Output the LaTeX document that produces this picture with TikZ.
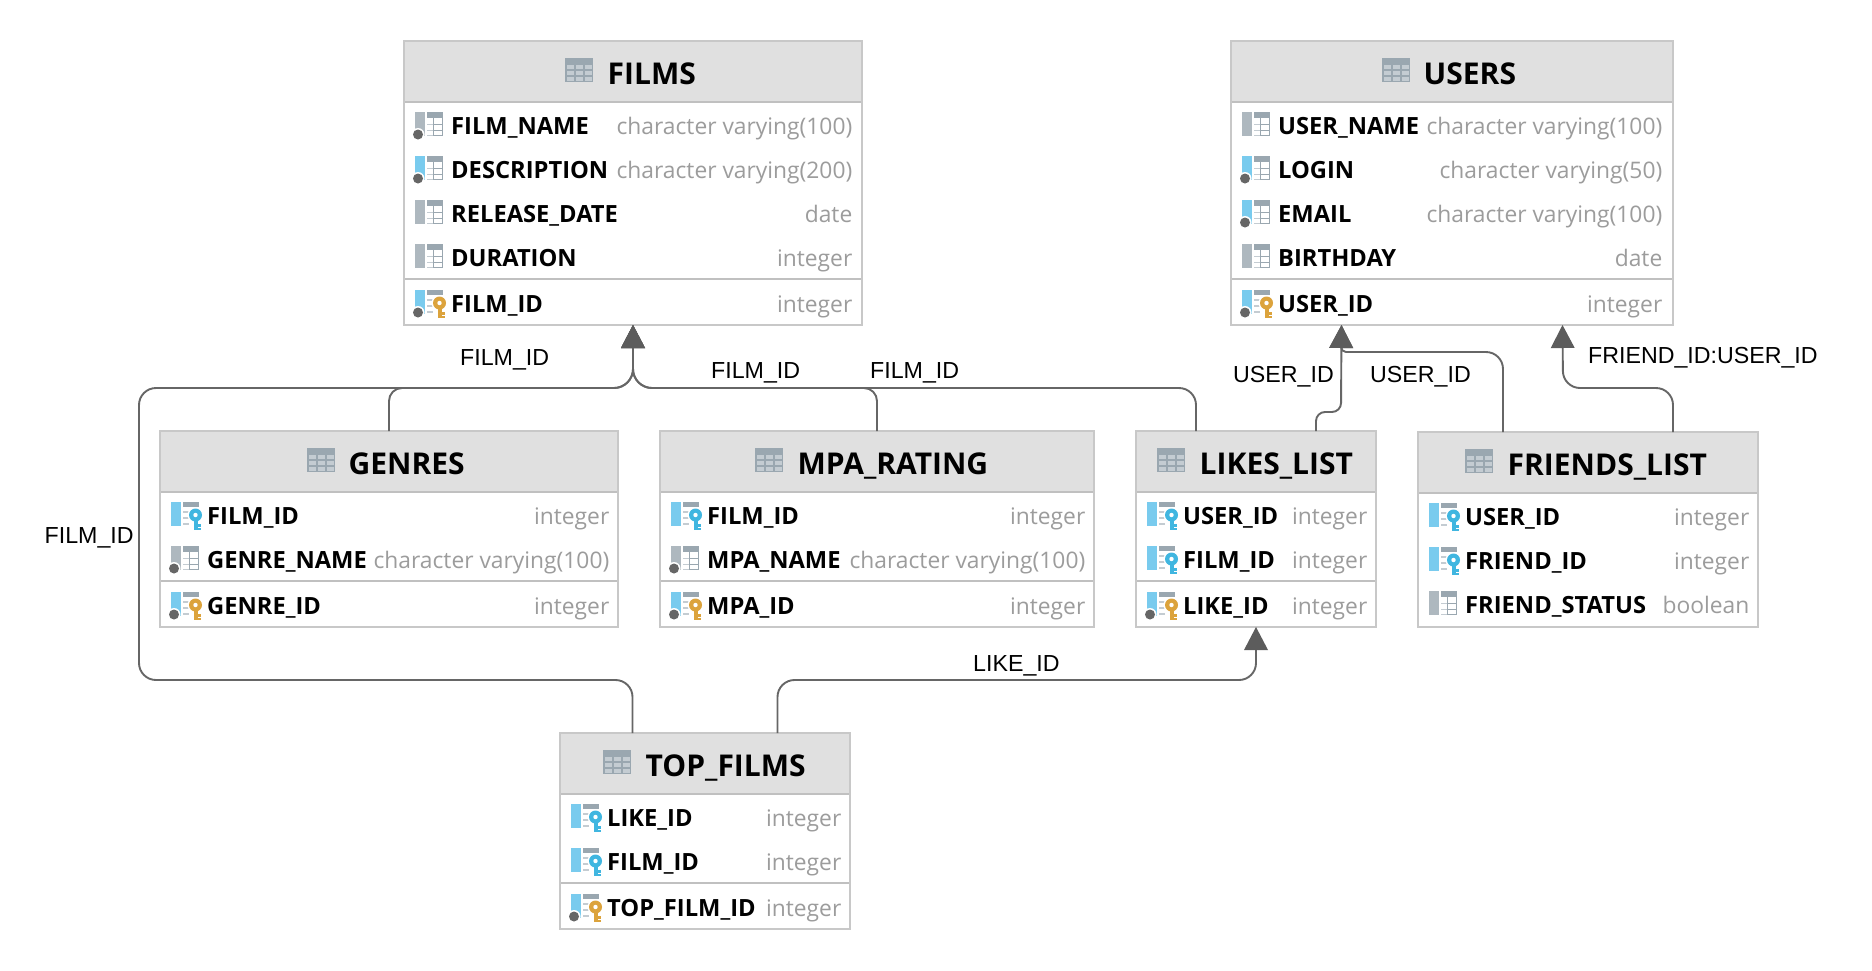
\documentclass[tikz,border=0pt]{standalone}
\usepackage{fontspec}
\setmainfont{Open Sans}
\newfontfamily\labelfont{Liberation Sans}
\usepackage{tikz}
\usetikzlibrary{calc}
\usetikzlibrary{arrows.meta}

\definecolor{tableline}{HTML}{C8C8C8}
\definecolor{headfill}{HTML}{E0E0E0}
\definecolor{headline}{HTML}{C0C0C0}
\definecolor{icongray}{HTML}{9AA7B0}
\definecolor{iconcell}{HTML}{C4CCD2}
\definecolor{bargray}{HTML}{AEB8BF}
\definecolor{barblue}{HTML}{79CBEE}
\definecolor{keyblue}{HTML}{40B6E0}
\definecolor{keygold}{HTML}{DCA33C}
\definecolor{dotgray}{HTML}{666666}
\definecolor{typegray}{HTML}{9C9C9C}
\definecolor{linkgray}{HTML}{666666}
\definecolor{tipgray}{HTML}{5C5C5C}

\newcommand{\colbar}[1]{\fill[#1] (0,-23) rectangle (10,1);}
\newcommand{\colgrid}{
    \fill[icongray] (12,-23) rectangle (28,-17);
    \fill[icongray] (26.7,-17) rectangle (28,1);
    \fill[icongray] (17.7,-17) rectangle (19,1);
    \foreach \yy in {-11.3,-5.3,-0.3} {
        \fill[icongray] (18,\yy) rectangle (28,\yy+1.3);
        \fill[iconcell] (12,\yy) rectangle (18,\yy+1.3);
    }
}
\newcommand{\colkeygrid}{
    \fill[icongray] (12,-23) rectangle (28,-18);
    \foreach \yy in {-14,-8,-2} {
        \fill[iconcell] (12,\yy) rectangle (18,\yy+1.5);
    }
}
\newcommand{\coldot}{
    \fill[white] (3,-0.5) circle (6.5);
    \fill[dotgray] (3,-0.5) circle (5);
}
\newcommand{\colkey}[1]{
    \fill[white] (24.5,-10) circle (8);
    \fill[#1] (22.5,-10) rectangle (26.5,5);
    \fill[#1] (26.5,-1) rectangle (30,1.5);
    \fill[#1] (26.5,2.5) rectangle (30,5);
    \fill[#1] (24.5,-10) circle (6.5);
    \fill[white] (24.5,-10) circle (2.2);
}

\tikzset{
    pics/colgray/.style={code={\colbar{bargray}\colgrid}},
    pics/colgraydot/.style={code={\colbar{bargray}\colgrid\coldot}},
    pics/colbluedot/.style={code={\colbar{barblue}\colgrid\coldot}},
    pics/colfk/.style={code={\colbar{barblue}\colkeygrid\colkey{keyblue}}},
    pics/colpk/.style={code={\colbar{barblue}\colkeygrid\colkey{keygold}\coldot}},
    pics/tableicon/.style={code={
        \fill[icongray] (0,0) rectangle (28,24);
        \foreach \cx in {1.5,10.5,19.5} {
            \foreach \cy in {6.5,12.5,18.5} {
                \fill[iconcell] (\cx,\cy) rectangle (\cx+7.5,\cy+4.5);
            }
        }
    }},
    tablebox/.style={rectangle, draw=tableline, line width=1.5, fill=white, inner sep=0, outer sep=0, anchor=north west},
    tablehead/.style={fill=headfill},
    headsep/.style={draw=headline, line width=2},
    tabletitle/.style={inner sep=0, anchor=base west, xshift=-1.5pt, yshift=-1pt, font=\fontsize{30}{32}\selectfont\bfseries, text=black},
    colname/.style={inner sep=0, anchor=base west, xshift=-1pt, yshift=1pt, font=\fontsize{23.7}{26}\selectfont\bfseries, text=black},
    coltype/.style={inner sep=0, anchor=base east, xshift=0.5pt, yshift=1pt, font=\fontsize{22.8}{26}\selectfont, text=typegray},
    fklink/.style={draw=linkgray, line width=1.9, -{Triangle[length=23,width=24,fill=tipgray,line width=0]}},
    linklabel/.style={inner sep=0, anchor=base west, font=\fontsize{23.2}{26}\selectfont\labelfont, text=black}
}

\begin{document}
\begin{tikzpicture}[x=1pt, y=-1pt]
    \useasboundingbox (0,0) rectangle (1872,970);
    \fill[white] (0,0) rectangle (1872,970);

    % Tables
    \begin{scope}[shift={(404,41)}]
        \node[tablebox, minimum width=458, minimum height=284] (films) at (0,0) {};
        \fill[tablehead] (0.75,0.75) rectangle (457.25,60);
        \draw[headsep] (1,60.5) -- (457,60.5);
        \draw[headsep] (1,238) -- (457,238);
        \pic at (161,17) {tableicon};
        \node[tabletitle] (filmstitle) at (205,42) {FILMS};
        \foreach \ic/\yy/\nm/\tp in {colgraydot/94/FILM\_NAME/character varying(100), colbluedot/138/DESCRIPTION/character varying(200), colgray/182/RELEASE\_DATE/date, colgray/226/DURATION/integer, colpk/272/FILM\_ID/integer} {
            \pic at (11,\yy) {\ic};
            \node[colname] (films\yy n) at (48,\yy) {\nm};
            \node[coltype] (films\yy t) at (448,\yy) {\tp};
        }
    \end{scope}

    \begin{scope}[shift={(1231,41)}]
        \node[tablebox, minimum width=442, minimum height=284] (users) at (0,0) {};
        \fill[tablehead] (0.75,0.75) rectangle (441.25,60);
        \draw[headsep] (1,60.5) -- (441,60.5);
        \draw[headsep] (1,238) -- (441,238);
        \pic at (151,17) {tableicon};
        \node[tabletitle] (userstitle) at (194,42) {USERS};
        \foreach \ic/\yy/\nm/\tp in {colgray/94/USER\_NAME/character varying(100), colbluedot/138/LOGIN/character varying(50), colbluedot/182/EMAIL/character varying(100), colgray/226/BIRTHDAY/date, colpk/272/USER\_ID/integer} {
            \pic at (11,\yy) {\ic};
            \node[colname] (users\yy n) at (48,\yy) {\nm};
            \node[coltype] (users\yy t) at (431,\yy) {\tp};
        }
    \end{scope}

    \begin{scope}[shift={(160,431)}]
        \node[tablebox, minimum width=458, minimum height=196] (genres) at (0,0) {};
        \fill[tablehead] (0.75,0.75) rectangle (457.25,60);
        \draw[headsep] (1,60.5) -- (457,60.5);
        \draw[headsep] (1,150) -- (457,150);
        \pic at (147,17) {tableicon};
        \node[tabletitle] (genrestitle) at (190,42) {GENRES};
        \foreach \ic/\yy/\nm/\tp in {colfk/94/FILM\_ID/integer, colgraydot/138/GENRE\_NAME/character varying(100), colpk/184/GENRE\_ID/integer} {
            \pic at (11,\yy) {\ic};
            \node[colname] (genres\yy n) at (48,\yy) {\nm};
            \node[coltype] (genres\yy t) at (449,\yy) {\tp};
        }
    \end{scope}

    \begin{scope}[shift={(660,431)}]
        \node[tablebox, minimum width=434, minimum height=196] (mpa) at (0,0) {};
        \fill[tablehead] (0.75,0.75) rectangle (433.25,60);
        \draw[headsep] (1,60.5) -- (433,60.5);
        \draw[headsep] (1,150) -- (433,150);
        \pic at (95,17) {tableicon};
        \node[tabletitle] (mpatitle) at (139,42) {MPA\_RATING};
        \foreach \ic/\yy/\nm/\tp in {colfk/94/FILM\_ID/integer, colgraydot/138/MPA\_NAME/character varying(100), colpk/184/MPA\_ID/integer} {
            \pic at (11,\yy) {\ic};
            \node[colname] (mpa\yy n) at (48,\yy) {\nm};
            \node[coltype] (mpa\yy t) at (425,\yy) {\tp};
        }
    \end{scope}

    \begin{scope}[shift={(1136,431)}]
        \node[tablebox, minimum width=240, minimum height=196] (likes) at (0,0) {};
        \fill[tablehead] (0.75,0.75) rectangle (239.25,60);
        \draw[headsep] (1,60.5) -- (239,60.5);
        \draw[headsep] (1,150) -- (239,150);
        \pic at (21,17) {tableicon};
        \node[tabletitle] (likestitle) at (65,42) {LIKES\_LIST};
        \foreach \ic/\yy/\nm/\tp in {colfk/94/USER\_ID/integer, colfk/138/FILM\_ID/integer, colpk/184/LIKE\_ID/integer} {
            \pic at (11,\yy) {\ic};
            \node[colname] (likes\yy n) at (48,\yy) {\nm};
            \node[coltype] (likes\yy t) at (231,\yy) {\tp};
        }
    \end{scope}

    \begin{scope}[shift={(1418,432)}]
        \node[tablebox, minimum width=340, minimum height=195] (friends) at (0,0) {};
        \fill[tablehead] (0.75,0.75) rectangle (339.25,60);
        \draw[headsep] (1,60.5) -- (339,60.5);
        \pic at (47,17) {tableicon};
        \node[tabletitle] (friendstitle) at (91,42) {FRIENDS\_LIST};
        \foreach \ic/\yy/\nm/\tp in {colfk/94/USER\_ID/integer, colfk/138/FRIEND\_ID/integer, colgray/182/FRIEND\_STATUS/boolean} {
            \pic at (11,\yy) {\ic};
            \node[colname] (friends\yy n) at (48,\yy) {\nm};
            \node[coltype] (friends\yy t) at (331,\yy) {\tp};
        }
    \end{scope}

    \begin{scope}[shift={(560,733)}]
        \node[tablebox, minimum width=290, minimum height=196] (top) at (0,0) {};
        \fill[tablehead] (0.75,0.75) rectangle (289.25,60);
        \draw[headsep] (1,60.5) -- (289,60.5);
        \draw[headsep] (1,150) -- (289,150);
        \pic at (43,17) {tableicon};
        \node[tabletitle] (toptitle) at (87,42) {TOP\_FILMS};
        \foreach \ic/\yy/\nm/\tp in {colfk/94/LIKE\_ID/integer, colfk/138/FILM\_ID/integer, colpk/184/TOP\_FILM\_ID/integer} {
            \pic at (11,\yy) {\ic};
            \node[colname] (top\yy n) at (48,\yy) {\nm};
            \node[coltype] (top\yy t) at (281,\yy) {\tp};
        }
    \end{scope}

    % Ports on the table edges
    \coordinate (usersleft) at ($(users.south west)!.25!(users.south east)$);
    \coordinate (usersright) at ($(users.south west)!.75!(users.south east)$);
    \coordinate (likesleft) at ($(likes.north west)!.25!(likes.north east)$);
    \coordinate (likesright) at ($(likes.north west)!.75!(likes.north east)$);
    \coordinate (friendsleft) at ($(friends.north west)!.25!(friends.north east)$);
    \coordinate (friendsright) at ($(friends.north west)!.75!(friends.north east)$);
    \coordinate (topleft) at ($(top.north west)!.25!(top.north east)$);
    \coordinate (topright) at ($(top.north west)!.75!(top.north east)$);
    % Bends
    \coordinate (filmbus) at (139,388);
    \coordinate (lowbus) at (139,680);
    \coordinate (userjog) at (1341,412);
    \coordinate (userbus) at (1341,352);
    \coordinate (friendbus) at (1563,388);

    % Edges
    \draw[fklink, rounded corners=13] (genres.north) -- (genres.north |- filmbus) [rounded corners=19] -- (films.south |- filmbus) -- (films.south);
    \draw[fklink, rounded corners=13] (mpa.north) -- (mpa.north |- filmbus) [rounded corners=19] -- (films.south |- filmbus) -- (films.south);
    \draw[fklink, rounded corners=17] (likesleft) -- (likesleft |- filmbus) [rounded corners=19] -- (films.south |- filmbus) -- (films.south);
    \draw[fklink, rounded corners=17] (topleft) -- (topleft |- lowbus) -- (lowbus) -- (filmbus) [rounded corners=19] -- (films.south |- filmbus) -- (films.south);
    \draw[fklink, rounded corners=17] (topright) -- (topright |- lowbus) -- (likes.south |- lowbus) -- (likes.south);
    \draw[fklink, rounded corners=9] (likesright) -- (likesright |- userjog) -- (userjog) -- (usersleft);
    \draw[fklink, rounded corners=17] (friendsleft) -- (friendsleft |- userbus) [rounded corners=5] -- (userbus) -- (usersleft);
    \draw[fklink, rounded corners=17] (friendsright) -- (friendsright |- friendbus) -- (friendbus) -- (usersright);

    % Labels
    \node[linklabel] (labelfilmtop) at (460,365) {FILM\_ID};
    \node[linklabel] (labelfilmleft) at (44.5,543) {FILM\_ID};
    \node[linklabel] (labelfilmmpa) at (711,378) {FILM\_ID};
    \node[linklabel] (labelfilmlikes) at (870,378) {FILM\_ID};
    \node[linklabel] (labeluserlikes) at (1233,382) {USER\_ID};
    \node[linklabel] (labeluserfriends) at (1370,382) {USER\_ID};
    \node[linklabel] (labelfriend) at (1588,363) {FRIEND\_ID:USER\_ID};
    \node[linklabel] (labellike) at (973,671) {LIKE\_ID};
\end{tikzpicture}
\end{document}
